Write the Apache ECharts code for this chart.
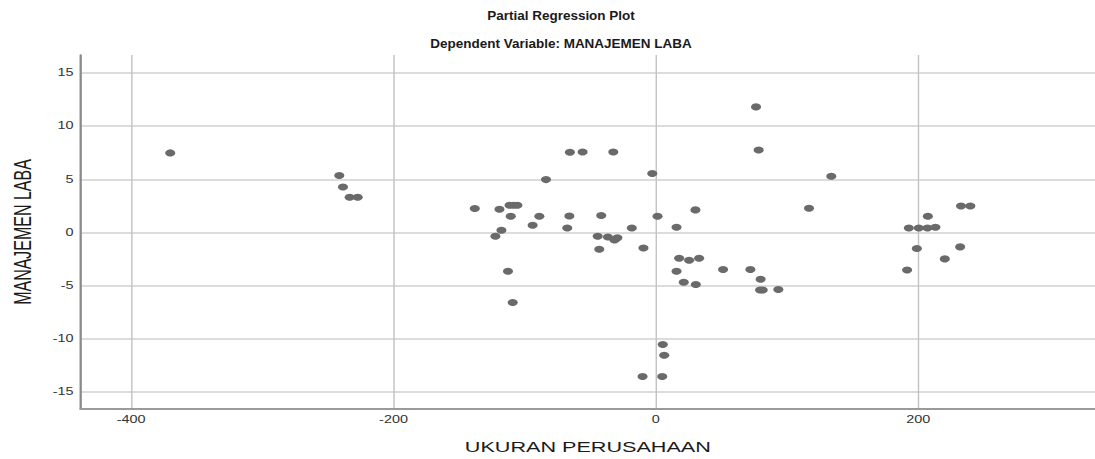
<!DOCTYPE html>
<html><head><meta charset="utf-8">
<script src="https://cdn.jsdelivr.net/npm/echarts@6/dist/echarts.min.js"></script>
<style>
html,body{margin:0;padding:0;background:#fff;overflow:hidden}
#wrap{width:1095px;height:459px;overflow:hidden}
#c{width:760px;height:459px;transform:scaleX(1.440789);transform-origin:0 0}
</style>
</head><body><div id="wrap"><div id="c"></div></div>
<script>
const chartTitle = 'Partial Regression Plot';
const chartSubtitle = 'Dependent Variable: MANAJEMEN LABA';
const xAxisName = 'UKURAN PERUSAHAAN';
const yAxisName = 'MANAJEMEN LABA';
const xTicks = [-400, -200, 0, 200];
const yTicks = [-15, -10, -5, 0, 5, 10, 15];
const ukuranPerusahaan = [-370.2,-241.3,-238.5,-233.4,-227.3,-138,-122.3,-119.2,-117.7,-112.7,-111.5,-110.6,-109.1,-108.5,-105.5,-93.9,-88.8,-83.7,-67.5,-65.9,-65.5,-55.8,-44.3,-43.1,-41.6,-36.5,-32.4,-31.5,-29.3,-18.3,-10.1,-9.4,-2.7,1.3,4.9,5.3,6.4,15.8,15.8,17.8,21.3,25.4,30.2,30.5,33,51.3,72.1,76.4,78.4,79.9,79.5,81.5,93.4,116.8,133.8,191.6,192.9,199,200.5,207.1,207.4,213.2,220.3,232,232.7,239.8];
const manajemenLaba = [7.49,5.36,4.29,3.32,3.32,2.26,-0.35,2.19,0.22,-3.64,2.57,1.53,-6.59,2.57,2.57,0.69,1.53,4.98,0.43,1.56,7.55,7.58,-0.35,-1.57,1.6,-0.42,7.58,-0.7,-0.5,0.43,-13.55,-1.45,5.55,1.53,-13.55,-10.54,-11.54,0.5,-3.64,-2.42,-4.68,-2.61,2.13,-4.89,-2.42,-3.48,-3.48,11.82,7.77,-4.39,-5.4,-5.4,-5.36,2.29,5.3,-3.52,0.43,-1.51,0.43,0.43,1.53,0.5,-2.48,-1.35,2.5,2.5];

const STRETCH = 1.440789;
const points = ukuranPerusahaan.map((x, i) => [x, manajemenLaba[i]]);
const FONT = 'Liberation Sans, Arial, sans-serif';
const chart = echarts.init(document.getElementById('c'), null, {renderer: 'svg'});

function titleText(txt, cx, cy) {
  return {
    type: 'text', x: cx / STRETCH, y: cy, scaleX: 1 / STRETCH, scaleY: 1,
    style: {
      text: txt, x: 0, y: 0,
      textAlign: 'center', textVerticalAlign: 'middle',
      align: 'center', verticalAlign: 'middle',
      font: 'bold 13.5px Liberation Sans, Arial, sans-serif',
      fill: '#1a1a1a'
    }
  };
}

chart.setOption({
  animation: false,
  backgroundColor: '#ffffff',
  graphic: [
    titleText(chartTitle, 561, 15),
    titleText(chartSubtitle, 561, 43)
  ],
  grid: {left: 55, right: 0, top: 55, bottom: 50, containLabel: false},
  xAxis: {
    type: 'value', min: -438.5, max: 334.8,
    name: xAxisName, nameLocation: 'middle', nameGap: 30,
    nameTextStyle: {fontFamily: FONT, fontSize: 15, color: '#1a1a1a'},
    axisLine: {show: true, onZero: false, lineStyle: {color: '#9a9a9a', width: 2}},
    axisTick: {show: false, customValues: xTicks},
    axisLabel: {customValues: xTicks, fontFamily: FONT, fontSize: 10, color: '#333', margin: 6},
    splitLine: {show: true, lineStyle: {color: '#c4c4c4', width: 1}}
  },
  yAxis: {
    type: 'value', min: -16.6, max: 16.7,
    name: yAxisName, nameLocation: 'middle', nameGap: 32, nameRotate: 90,
    nameTextStyle: {fontFamily: FONT, fontSize: 16, color: '#1a1a1a'},
    axisLine: {show: true, onZero: false, lineStyle: {color: '#8a8a8a', width: 1.6}},
    axisTick: {show: false, customValues: yTicks},
    axisLabel: {customValues: yTicks, fontFamily: FONT, fontSize: 10, color: '#333', margin: 5},
    splitLine: {show: true, lineStyle: {color: '#d0d0d0', width: 1.5}}
  },
  series: [{
    type: 'scatter',
    data: points,
    symbol: 'circle',
    symbolSize: 7,
    itemStyle: {color: '#6a6a6a', opacity: 1}
  }]
});
</script>
</body></html>
